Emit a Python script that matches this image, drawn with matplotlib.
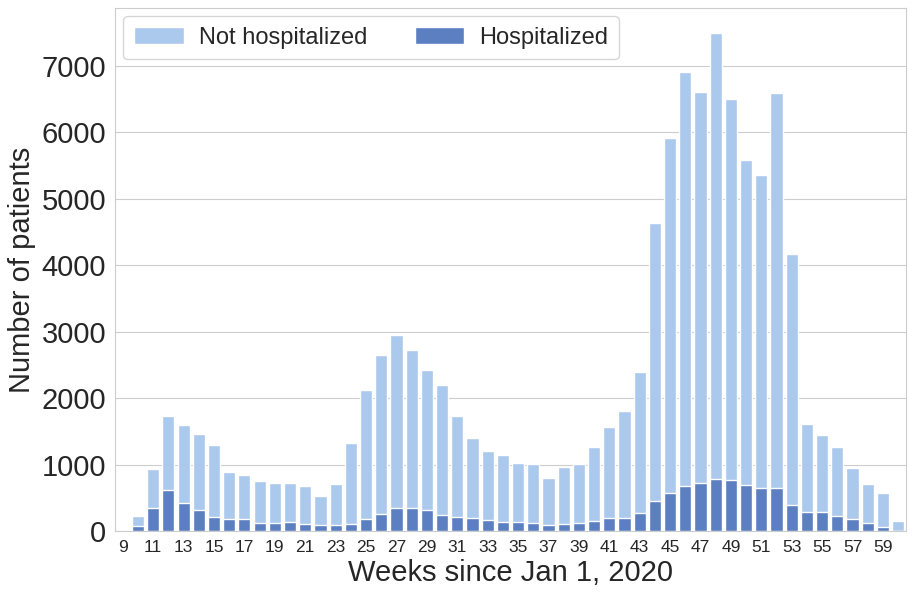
import numpy as np
import matplotlib
matplotlib.use('Agg')
import matplotlib.pyplot as plt
import seaborn as sns

# weekly counts
weeks = list(range(9, 61))
total = [0, 220, 940, 1735, 1600, 1460, 1295, 885, 850, 750,
         720, 720, 680, 525, 700, 1330, 2125, 2645, 2945, 2720,
         2415, 2200, 1735, 1405, 1205, 1150, 1020, 1005, 795, 970,
         1005, 1265, 1560, 1810, 2390, 4630, 5915, 6905, 6610, 7485,
         6500, 5580, 5350, 6590, 4160, 1615, 1440, 1270, 950, 710,
         570, 150]
hosp = [0, 70, 350, 610, 425, 310, 210, 185, 175, 120,
        120, 140, 110, 90, 95, 112, 175, 260, 340, 350,
        310, 245, 205, 190, 170, 140, 130, 117, 85, 100,
        125, 145, 195, 200, 268, 447, 565, 670, 725, 782,
        760, 687, 642, 642, 390, 285, 280, 223, 184, 123,
        67, 0]

sns.set_style('whitegrid')
plt.rcParams['font.family'] = ['Liberation Sans', 'DejaVu Sans']

fig = plt.figure(figsize=(9.14, 5.98), dpi=100)
ax = fig.add_axes([0.126, 0.112, 0.865, 0.875])

x = np.arange(len(weeks))
ax.bar(x, total, width=0.8, color='#abc9ec', edgecolor='white', linewidth=1,
       label='Not hospitalized', zorder=2)
ax.bar(x, hosp, width=0.8, color='#5b7fc1', edgecolor='white', linewidth=1,
       label='Hospitalized', zorder=3)

ax.set_xlim(-0.5, len(weeks) - 0.5)
ax.set_ylim(0, 7870)
ax.set_xticks(x[::2])
ax.set_xticklabels([str(w) for w in weeks[::2]], fontsize=12.5)
ax.set_yticks(range(0, 8000, 1000))
ax.tick_params(axis='y', labelsize=21, pad=3)
ax.tick_params(axis='x', pad=3)
ax.grid(axis='x', visible=False)
ax.set_axisbelow(True)
ax.set_xlabel('Weeks since Jan 1, 2020', fontsize=21, labelpad=3)
ax.set_ylabel('Number of patients', fontsize=21, labelpad=4)
ax.legend(loc='upper left', ncol=2, fontsize=17, frameon=True,
          borderaxespad=0.35, columnspacing=2.0, handlelength=2.1,
          handletextpad=0.65, borderpad=0.45)

plt.savefig('out.png', dpi=100)
